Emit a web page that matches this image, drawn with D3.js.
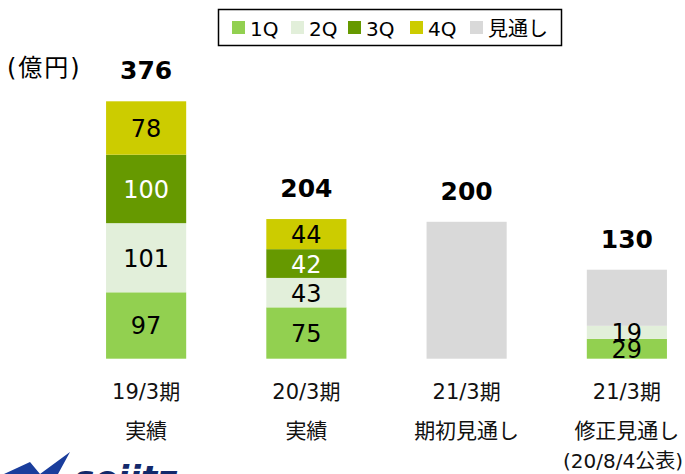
<!DOCTYPE html>
<html>
<head>
<meta charset="utf-8">
<script src="https://cdn.jsdelivr.net/npm/d3@7"></script>
<style>
  body { margin: 0; background: #fff; }
  text { font-family: "DejaVu Sans", "Noto Sans CJK JP", sans-serif; }
</style>
</head>
<body>
<div id="chart"></div>
<script>
// chart data
const categories = ["19/3期", "20/3期", "21/3期", "21/3期"];
const subLabels = ["実績", "実績", "期初見通し", "修正見通し"];
const noteLabels = ["", "", "", "(20/8/4公表)"];
const seriesNames = ["1Q", "2Q", "3Q", "4Q", "見通し"];
const q1 = [97, 75, 0, 29];
const q2 = [101, 43, 0, 19];
const q3 = [100, 42, 0, 0];
const q4 = [78, 44, 0, 0];
const outlook = [0, 0, 200, 82];
const totals = [376, 204, 200, 130];

const colors = ["#92d050", "#e2efda", "#669900", "#cccc00", "#d9d9d9"];
const labelColors = ["#000", "#000", "#fff", "#000", "#000"];

const width = 685, height = 474;

const svg = d3.select("#chart").append("svg")
  .attr("width", width)
  .attr("height", height);

const x = d3.scaleBand()
  .domain(d3.range(categories.length))
  .range([66, 707])
  .paddingInner(0.5)
  .paddingOuter(0.25);

const y = d3.scaleLinear()
  .domain([0, 376])
  .range([358.7, 101.3]);

// stack the series
const rows = categories.map((c, i) => ({
  i: i, s0: q1[i], s1: q2[i], s2: q3[i], s3: q4[i], s4: outlook[i]
}));
const stack = d3.stack().keys(["s0", "s1", "s2", "s3", "s4"]);
const series = stack(rows);

const layer = svg.selectAll("g.layer")
  .data(series)
  .enter().append("g")
  .attr("class", "layer")
  .attr("fill", (d, k) => colors[k]);

layer.selectAll("rect")
  .data(d => d)
  .enter().append("rect")
  .attr("x", d => x(d.data.i))
  .attr("width", x.bandwidth())
  .attr("y", d => y(d[1]))
  .attr("height", d => y(d[0]) - y(d[1]));

// segment labels (quarters only)
series.slice(0, 4).forEach((s, k) => {
  svg.selectAll(null)
    .data(s.filter(d => d[1] - d[0] > 0))
    .enter().append("text")
    .attr("x", d => x(d.data.i) + x.bandwidth() / 2)
    .attr("y", d => (y(d[0]) + y(d[1])) / 2 + 9)
    .attr("text-anchor", "middle")
    .attr("font-size", 24)
    .attr("fill", labelColors[k])
    .text(d => d[1] - d[0]);
});

// totals
svg.selectAll("text.total")
  .data(totals)
  .enter().append("text")
  .attr("class", "total")
  .attr("x", (d, i) => x(i) + x.bandwidth() / 2)
  .attr("y", d => y(d) - 22)
  .attr("text-anchor", "middle")
  .attr("font-size", 25)
  .attr("font-weight", "bold")
  .text(d => d);

// category labels
const cat = svg.selectAll("g.cat")
  .data(categories)
  .enter().append("g")
  .attr("class", "cat")
  .attr("transform", (d, i) => `translate(${x(i) + x.bandwidth() / 2},0)`);

cat.append("text").attr("y", 399).text(d => d);
cat.append("text").attr("y", 438).text((d, i) => subLabels[i]);
cat.selectAll("text")
  .attr("text-anchor", "middle")
  .attr("font-size", 21)
  .attr("fill", "#111");

// note under the last category, right aligned to the edge
svg.append("text")
  .attr("x", 683).attr("y", 468)
  .attr("text-anchor", "end")
  .attr("font-size", 20)
  .attr("fill", "#111")
  .text(noteLabels[3]);

// unit
svg.append("text")
  .attr("x", 7).attr("y", 76)
  .attr("font-size", 24)
  .attr("letter-spacing", 2)
  .text("(億円)");

// legend
svg.append("rect")
  .attr("x", 218.5).attr("y", 9.5)
  .attr("width", 343).attr("height", 36)
  .attr("fill", "#fff")
  .attr("stroke", "#000")
  .attr("stroke-width", 1.5);

const legendX = [232, 291, 348, 410, 470];
const lg = svg.selectAll("g.lg")
  .data(seriesNames)
  .enter().append("g")
  .attr("class", "lg")
  .attr("transform", (d, i) => `translate(${legendX[i]},21)`);
lg.append("rect")
  .attr("width", 13).attr("height", 13)
  .attr("fill", (d, i) => colors[i]);
lg.append("text")
  .attr("x", 18).attr("y", 14.5)
  .attr("font-size", 20)
  .text(d => d);

// logo (cut off at bottom)
svg.append("path")
  .attr("d", "M4,474 L30,462 L40,474 Z M40,474 L70,452 L58,474 Z")
  .attr("fill", "#1a3d9c");
svg.append("text")
  .attr("x", 74).attr("y", 490)
  .attr("font-size", 34)
  .attr("font-weight", "bold")
  .attr("font-style", "italic")
  .attr("fill", "#13296b")
  .text("sojitz");
</script>
</body>
</html>
